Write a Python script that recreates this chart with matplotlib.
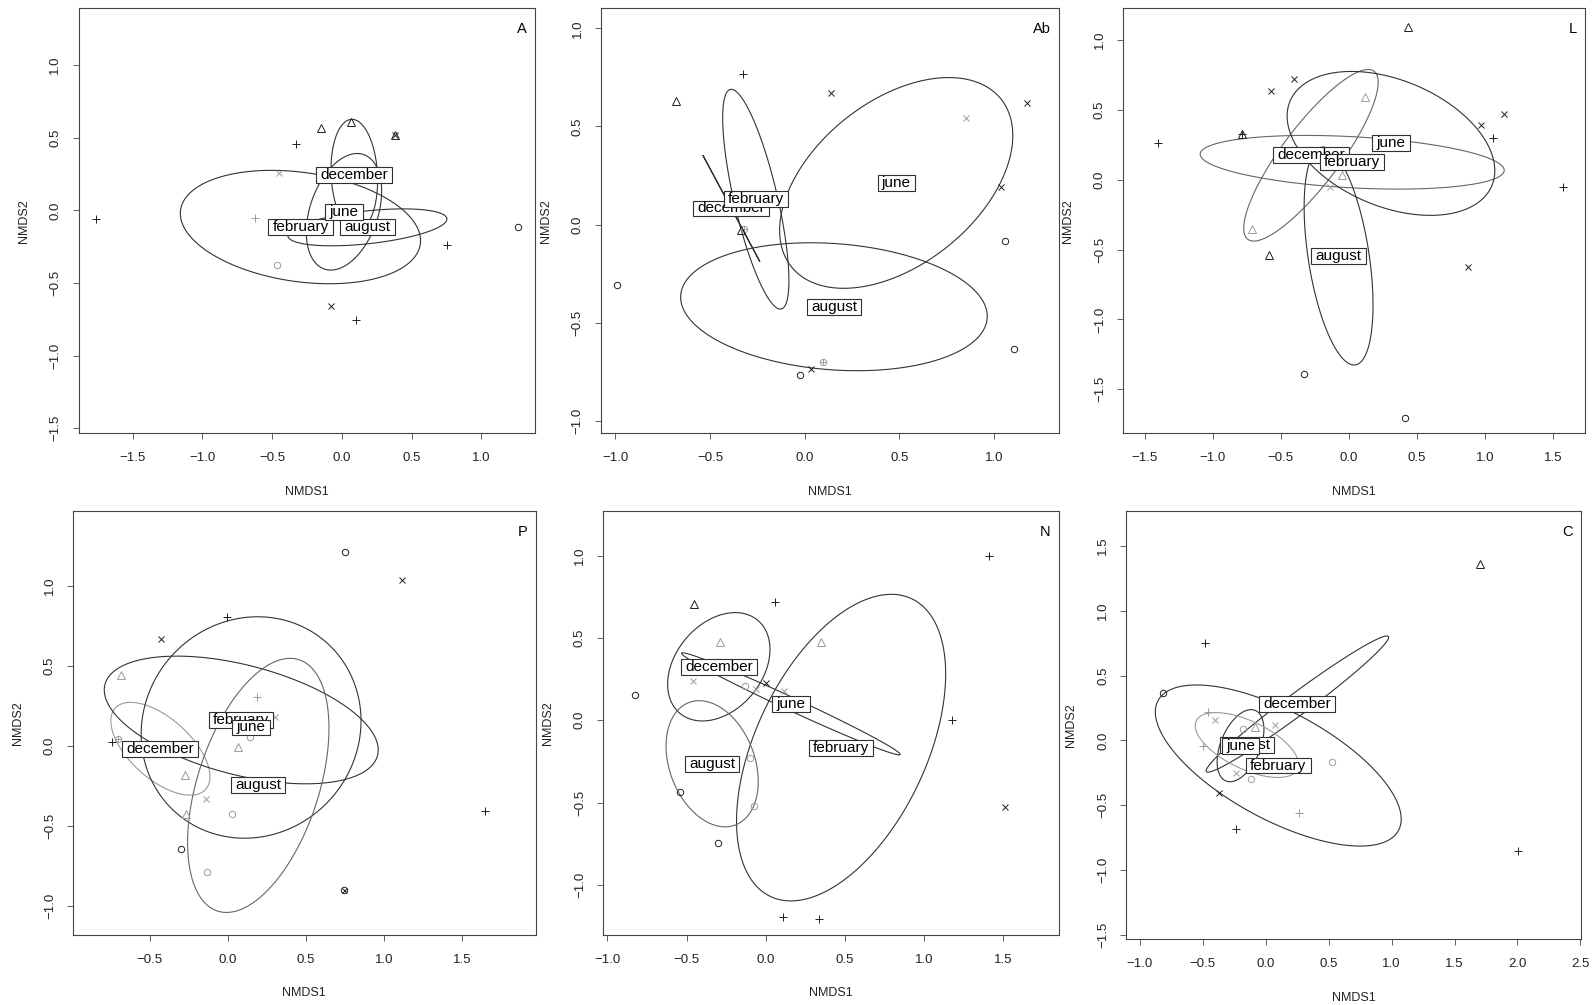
import numpy as np
import matplotlib
matplotlib.use("Agg")
import matplotlib.pyplot as plt
from matplotlib.path import Path
from matplotlib.patches import Polygon
from matplotlib.ticker import FixedLocator, FuncFormatter

plt.rcParams['font.family'] = ['Liberation Sans', 'DejaVu Sans']

months = ["december", "february", "june", "august"]
# site codes: 1 circle, 2 triangle, 3 plus, 4 cross, 5 circle+plus, 6 circle+cross
# shade: 0 = first set (black), 1 = second set (grey)

# ---------------- Panel A ----------------
A_x = [-1.766, -0.329, 0.756, 0.098, -0.151, 0.066, 0.379, 0.379, -0.077, 1.261, -0.452, -0.620, -0.462]
A_y = [-0.062, 0.459, -0.241, -0.755, 0.569, 0.610, 0.521, 0.521, -0.658, -0.115, 0.255, -0.053, -0.378]
A_site = [3, 3, 3, 3, 2, 2, 2, 4, 4, 1, 4, 3, 1]
A_shade = [0, 0, 0, 0, 0, 0, 0, 0, 0, 0, 1, 1, 1]
A_ecx = [0.089, -0.297, 0.015, 0.183]
A_ecy = [0.243, -0.115, -0.010, -0.117]
A_esx = [0.167, 0.861, 0.270, 0.570]
A_esy = [0.383, 0.390, 0.401, 0.127]
A_er = [-0.10, -0.24, 0.35, 0.45]
A_eshade = [0, 0, 0, 0]

# ---------------- Panel Ab ----------------
Ab_x = [-0.328, -0.682, 0.141, 1.175, 1.038, 0.035, 0.853, 1.058, -0.989, 1.104, -0.023, 0.097, -0.320, -0.338]
Ab_y = [0.767, 0.628, 0.669, 0.621, 0.189, -0.735, 0.543, -0.082, -0.310, -0.635, -0.767, -0.699, -0.025, -0.028]
Ab_site = [3, 2, 4, 4, 4, 4, 4, 1, 1, 1, 1, 5, 5, 2]
Ab_shade = [0, 0, 0, 0, 0, 0, 1, 0, 0, 0, 0, 1, 1, 0]
Ab_ecx = [-0.387, -0.258, 0.484, 0.155]
Ab_ecy = [0.082, 0.129, 0.212, -0.419]
Ab_esx = [0.150, 0.175, 0.616, 0.810]
Ab_esy = [0.270, 0.560, 0.537, 0.326]
Ab_er = [-1.0, -0.74, 0.45, -0.15]
Ab_eshade = [0, 0, 0, 0]

# ---------------- Panel L ----------------
L_x = [0.439, -0.404, -0.569, 0.121, -0.784, -0.784, -1.402, 0.972, 1.139, 1.062, 1.572, -0.707, -0.587, 0.877, -0.329, 0.414, -0.051, -0.137]
L_y = [1.095, 0.721, 0.635, 0.594, 0.327, 0.327, 0.265, 0.392, 0.470, 0.301, -0.050, -0.355, -0.539, -0.622, -1.388, -1.705, 0.034, -0.050]
L_site = [2, 4, 4, 2, 2, 3, 3, 4, 4, 3, 3, 2, 2, 4, 1, 1, 2, 4]
L_shade = [0, 0, 0, 1, 0, 0, 0, 0, 0, 0, 0, 1, 0, 0, 0, 0, 1, 1]
L_ecx = [-0.277, 0.026, 0.311, -0.074]
L_ecy = [0.175, 0.125, 0.260, -0.546]
L_esx = [0.494, 1.117, 0.763, 0.253]
L_esy = [0.614, 0.192, 0.515, 0.780]
L_er = [0.85, -0.30, -0.38, -0.45]
L_eshade = [2, 2, 0, 0]

# ---------------- Panel P ----------------
P_x = [0.747, 1.110, -0.009, -0.425, -0.687, 0.185, 0.304, -0.742, -0.703, 0.062, 0.139, -0.273, -0.143, -0.269, 0.026, -0.300, -0.132, 0.744, 1.641]
P_y = [1.208, 1.033, 0.806, 0.667, 0.444, 0.306, 0.181, 0.025, 0.044, -0.006, 0.057, -0.183, -0.331, -0.427, -0.429, -0.648, -0.790, -0.904, -0.406]
P_site = [1, 4, 3, 4, 2, 3, 4, 3, 5, 2, 1, 2, 4, 2, 1, 1, 1, 6, 3]
P_shade = [0, 0, 0, 0, 1, 1, 1, 0, 1, 1, 1, 1, 1, 1, 1, 0, 1, 0, 0]
P_ecx = [-0.432, 0.085, 0.148, 0.194]
P_ecy = [-0.019, 0.161, 0.114, -0.248]
P_esx = [0.317, 0.876, 0.703, 0.452]
P_esy = [0.290, 0.399, 0.692, 0.794]
P_er = [-0.60, -0.47, 0.06, 0.45]
P_eshade = [1, 0, 0, 2]

# ---------------- Panel N ----------------
N_x = [-0.454, 0.059, 1.409, -0.291, 0.348, -0.828, -0.461, -0.133, -0.065, 0.004, 0.115, 1.176, -0.098, -0.541, -0.074, -0.304, 1.509, 0.111, 0.337]
N_y = [0.704, 0.721, 1.000, 0.474, 0.474, 0.154, 0.241, 0.211, 0.188, 0.229, 0.175, 0.000, -0.231, -0.435, -0.520, -0.747, -0.526, -1.194, -1.209]
N_site = [2, 3, 3, 2, 2, 1, 4, 1, 4, 4, 4, 3, 1, 1, 1, 1, 4, 3, 3]
N_shade = [0, 0, 0, 1, 1, 0, 1, 1, 1, 0, 1, 0, 1, 0, 1, 0, 0, 0, 0]
N_ecx = [-0.297, 0.475, 0.158, -0.339]
N_ecy = [0.325, -0.166, 0.100, -0.264]
N_esx = [0.323, 0.660, 0.690, 0.291]
N_esy = [0.329, 0.931, 0.310, 0.383]
N_er = [0.32, 0.48, -0.99, -0.28]
N_eshade = [0, 0, 0, 2]

# ---------------- Panel C ----------------
C_x = [1.704, -0.480, -0.821, -0.456, -0.404, 0.075, -0.499, 0.524, -0.239, -0.120, -0.375, 0.267, -0.234, 2.008, -0.180, -0.088]
C_y = [1.364, 0.754, 0.364, 0.217, 0.161, 0.120, -0.042, -0.166, -0.248, -0.294, -0.407, -0.557, -0.683, -0.852, 0.091, 0.107]
C_site = [2, 3, 1, 3, 4, 4, 3, 1, 4, 1, 4, 3, 3, 3, 1, 2]
C_shade = [0, 0, 0, 1, 1, 1, 1, 1, 1, 1, 0, 1, 0, 0, 1, 1]
C_ecx = [0.251, 0.099, -0.201, -0.150]
C_ecy = [0.281, -0.193, -0.040, -0.035]
C_esx = [0.725, 0.977, 0.186, 0.411]
C_esy = [0.525, 0.621, 0.278, 0.250]
C_er = [0.98, -0.665, 0.45, -0.60]
C_eshade = [0, 0, 0, 1]

x_ticks = {
    "A": [-1.5, -1.0, -0.5, 0.0, 0.5, 1.0],
    "Ab": [-1.0, -0.5, 0.0, 0.5, 1.0],
    "L": [-1.5, -1.0, -0.5, 0.0, 0.5, 1.0, 1.5],
    "P": [-0.5, 0.0, 0.5, 1.0, 1.5],
    "N": [-1.0, -0.5, 0.0, 0.5, 1.0, 1.5],
    "C": [-1.0, -0.5, 0.0, 0.5, 1.0, 1.5, 2.0, 2.5],
}
y_ticks = {
    "A": [-1.5, -1.0, -0.5, 0.0, 0.5, 1.0],
    "Ab": [-1.0, -0.5, 0.0, 0.5, 1.0],
    "L": [-1.5, -1.0, -0.5, 0.0, 0.5, 1.0],
    "P": [-1.0, -0.5, 0.0, 0.5, 1.0],
    "N": [-1.0, -0.5, 0.0, 0.5, 1.0],
    "C": [-1.5, -1.0, -0.5, 0.0, 0.5, 1.0, 1.5],
}

# ---------------- layout / style ----------------
W, H = 1594, 1005
layout = {  # left, top, right, bottom in pixels, and axis limits
    "A": ((78.5, 8.3, 534.8, 433.3), (-1.888, 1.383), (-1.534, 1.390)),
    "Ab": ((600.6, 8.3, 1058.6, 433.3), (-1.078, 1.342), (-1.064, 1.102)),
    "L": ((1123.0, 8.3, 1584.5, 433.3), (-1.658, 1.733), (-1.815, 1.227)),
    "P": ((73.0, 510.7, 535.5, 935.0), (-0.991, 1.967), (-1.183, 1.469)),
    "N": ((603.0, 510.7, 1058.6, 935.0), (-1.028, 1.848), (-1.304, 1.273)),
    "C": ((1126.4, 510.7, 1581.1, 939.3), (-1.108, 2.506), (-1.533, 1.772)),
}

panels = {
    "A": (A_x, A_y, A_site, A_shade, A_ecx, A_ecy, A_esx, A_esy, A_er, A_eshade),
    "Ab": (Ab_x, Ab_y, Ab_site, Ab_shade, Ab_ecx, Ab_ecy, Ab_esx, Ab_esy, Ab_er, Ab_eshade),
    "L": (L_x, L_y, L_site, L_shade, L_ecx, L_ecy, L_esx, L_esy, L_er, L_eshade),
    "P": (P_x, P_y, P_site, P_shade, P_ecx, P_ecy, P_esx, P_esy, P_er, P_eshade),
    "N": (N_x, N_y, N_site, N_shade, N_ecx, N_ecy, N_esx, N_esy, N_er, N_eshade),
    "C": (C_x, C_y, C_site, C_shade, C_ecx, C_ecy, C_esx, C_esy, C_er, C_eshade),
}

point_colors = {0: "#1e1e1e", 1: "#9c9c9c"}
ell_colors = {0: "#333333", 1: "#9a9a9a", 2: "#666666"}
site_markers = {
    1: [("o", 4.6)],
    2: [("^", 5.4)],
    3: [("+", 6.2)],
    4: [("x", 4.2)],
    5: [("o", 4.6), ("+", 5.0)],
    6: [("o", 4.6), ("x", 3.6)],
}
frame_col = "#454545"


def label_box(x0, y0, width, height, mutation_size):
    padx = 0.27 * mutation_size
    pady = 0.06 * mutation_size
    xa, ya = x0 - padx, y0 - pady
    xb, yb = x0 + width + padx, y0 + height + pady
    return Path([(xa, ya), (xb, ya), (xb, yb), (xa, yb), (xa, ya)],
                [Path.MOVETO, Path.LINETO, Path.LINETO, Path.LINETO, Path.CLOSEPOLY])


fmt = FuncFormatter(lambda v, p: ("%.1f" % v).replace("-", "\u2212"))

fig = plt.figure(figsize=(W / 100, H / 100), dpi=100)
fig.patch.set_facecolor("white")

draw_order = [3, 0, 1, 2]  # august, december, february, june labels stacking
t = np.linspace(0, 2 * np.pi, 400, endpoint=False)

for name, data in panels.items():
    (l, tp, r, b), xl, yl = layout[name]
    ax = fig.add_axes([l / W, 1 - b / H, (r - l) / W, (b - tp) / H])
    px, py, site, shade, ecx, ecy, esx, esy, er, eshade = data
    ax.set_xlim(*xl)
    ax.set_ylim(*yl)

    # ellipses (closed outlines)
    for i in range(len(ecx)):
        rr = er[i]
        ex = ecx[i] + esx[i] * np.cos(t)
        ey = ecy[i] + esy[i] * (rr * np.cos(t) + np.sqrt(max(0.0, 1 - rr * rr)) * np.sin(t))
        poly = Polygon(np.column_stack([ex, ey]), closed=True, fill=False,
                       edgecolor=ell_colors[eshade[i]], lw=0.8, zorder=2, joinstyle="round")
        ax.add_patch(poly)

    # points
    for x, y, s, sh in zip(px, py, site, shade):
        for m, ms in site_markers[s]:
            ax.plot([x], [y], linestyle="none", marker=m, markersize=ms,
                    markerfacecolor="none", markeredgecolor=point_colors[sh],
                    markeredgewidth=0.7, zorder=3)

    # labels at group centres
    for k, gi in enumerate(draw_order):
        ax.text(ecx[gi], ecy[gi], months[gi], fontsize=11, ha="center", va="center",
                color="black", zorder=10 + k,
                bbox=dict(boxstyle=label_box, fc="white", ec="#303030", lw=0.8))

    # axes styling
    for sp in ax.spines.values():
        sp.set_linewidth(0.8)
        sp.set_color(frame_col)
    ax.xaxis.set_major_locator(FixedLocator(x_ticks[name]))
    ax.yaxis.set_major_locator(FixedLocator(y_ticks[name]))
    ax.xaxis.set_major_formatter(fmt)
    ax.yaxis.set_major_formatter(fmt)
    ax.tick_params(direction="out", length=4.3, width=0.6, color=frame_col,
                   labelsize=9.5, labelcolor="#222222")
    ax.tick_params(axis="x", pad=9.5)
    ax.tick_params(axis="y", pad=8, labelrotation=90)
    for lbl in ax.get_yticklabels():
        lbl.set_va("center")

    wpx, hpx = r - l, b - tp
    ax.text(0.5, -58.3 / hpx, "NMDS1", transform=ax.transAxes, ha="center", va="center",
            fontsize=9, color="#222222")
    ax.text(-55.0 / wpx, 0.5, "NMDS2", transform=ax.transAxes, ha="center", va="center",
            rotation=90, fontsize=9, color="#222222")
    ax.text(1 - 8.0 / wpx, 1 - 21.0 / hpx, name, transform=ax.transAxes, ha="right",
            va="center", fontsize=10.5, color="black")

fig.savefig("out.png", dpi=100, facecolor="white")
